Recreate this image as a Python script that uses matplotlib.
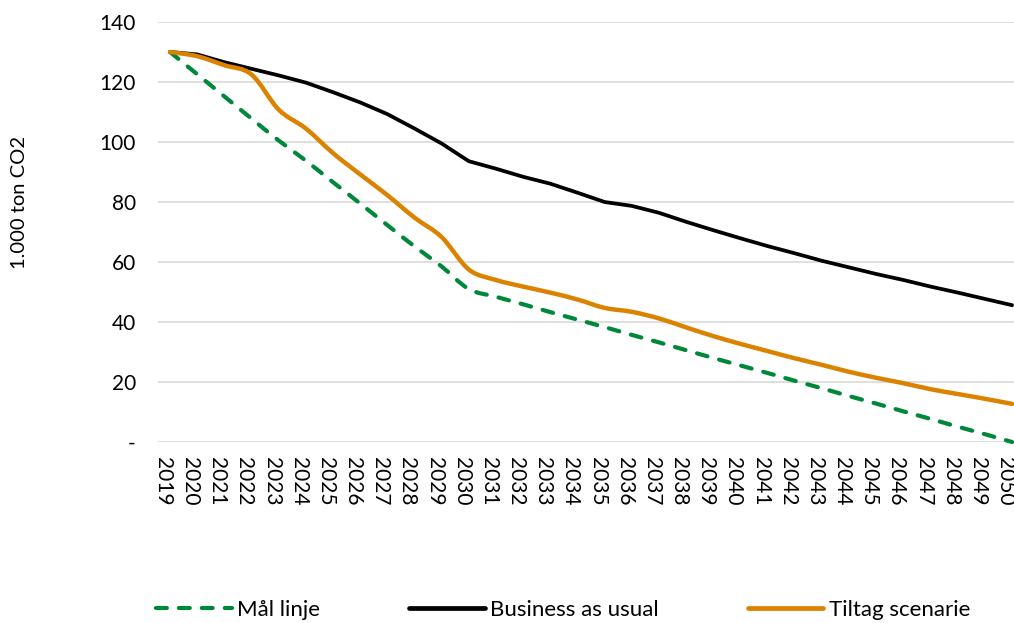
import matplotlib
matplotlib.use("Agg")
import matplotlib.pyplot as plt
import matplotlib.transforms as mtransforms
from matplotlib.lines import Line2D
from matplotlib.path import Path
from matplotlib.patches import PathPatch

plt.rcParams["font.family"] = ["Lato", "DejaVu Sans"]

# data
years = [str(y) for y in range(2019, 2051)]
maal_linje = [130, 122.6, 115.2, 107.8, 100.5, 93.8, 86.6, 79.5, 72.3, 65.2, 58.5, 51.0,
              48.4, 45.9, 43.3, 40.8, 38.3, 35.7, 33.2, 30.6, 28.0, 25.5, 23.0, 20.4,
              17.9, 15.3, 12.8, 10.2, 7.7, 5.1, 2.6, 0.0]
business_as_usual = [130, 129.2, 126.6, 124.4, 122.2, 119.8, 116.6, 113.2, 109.3, 104.5,
                     99.5, 93.6, 91.1, 88.4, 86.1, 83.1, 80.0, 78.7, 76.4, 73.4, 70.6,
                     67.9, 65.3, 62.9, 60.4, 58.2, 56.0, 54.0, 51.8, 49.8, 47.7, 45.6]
tiltag_scenarie = [130, 128.6, 125.6, 122.5, 110.8, 104.5, 96.3, 89.2, 82.3, 74.8, 68.3,
                   57.5, 54.0, 51.8, 49.8, 47.5, 44.7, 43.4, 41.2, 38.2, 35.3, 32.7, 30.3,
                   27.9, 25.7, 23.4, 21.4, 19.6, 17.6, 16.0, 14.4, 12.7]
y_ticks = [0, 20, 40, 60, 80, 100, 120, 140]
y_ticklabels = ["-", "20", "40", "60", "80", "100", "120", "140"]

GREEN = "#00883A"
ORANGE = "#DB8200"
BLACK = "#000000"
W, H = 1014, 623


def smooth_path(xs, ys):
    # Excel-style smoothed line: cubic bezier through each point
    pts = list(zip(xs, ys))
    verts = [pts[0]]
    codes = [Path.MOVETO]
    n = len(pts)
    for i in range(n - 1):
        p0 = pts[i - 1] if i > 0 else pts[i]
        p1 = pts[i]
        p2 = pts[i + 1]
        p3 = pts[i + 2] if i + 2 < n else pts[i + 1]
        c1 = (p1[0] + (p2[0] - p0[0]) / 6, p1[1] + (p2[1] - p0[1]) / 6)
        c2 = (p2[0] - (p3[0] - p1[0]) / 6, p2[1] - (p3[1] - p1[1]) / 6)
        verts += [c1, c2, p2]
        codes += [Path.CURVE4] * 3
    return Path(verts, codes)


fig = plt.figure(figsize=(W / 100, H / 100), dpi=100)
ax = fig.add_axes([158 / W, (H - 442) / H, (W - 158) / W, (442 - 22) / H])

x = list(range(len(years)))
green_patch = PathPatch(smooth_path(x, maal_linje), fill=False, edgecolor=GREEN,
                        linewidth=3.0, linestyle=(0, (2.6, 2.9)), capstyle="round",
                        clip_on=False, zorder=3)
ax.add_patch(green_patch)
ax.plot(x, business_as_usual, color=BLACK, linewidth=2.7, solid_capstyle="round",
        solid_joinstyle="round", clip_on=False, zorder=4)
orange_patch = PathPatch(smooth_path(x, tiltag_scenarie), fill=False, edgecolor=ORANGE,
                         linewidth=3.2, capstyle="round", joinstyle="round",
                         clip_on=False, zorder=5)
ax.add_patch(orange_patch)

ax.set_xlim(-0.442, 31.07)
ax.set_ylim(0, 140)
ax.set_xticks(x)
ax.set_xticklabels(years, rotation=270, fontsize=15)
ax.set_yticks(y_ticks)
ax.set_yticklabels(y_ticklabels, fontsize=15)
ax.tick_params(axis="x", length=0, pad=11)
ax.tick_params(axis="y", length=0, pad=16)
# Excel sets the category labels a touch left of the points
shift = mtransforms.ScaledTranslation(-7 / 100, 0, fig.dpi_scale_trans)
for lbl in ax.get_xticklabels():
    lbl.set_transform(lbl.get_transform() + shift)
for s in ax.spines.values():
    s.set_visible(False)
ax.yaxis.grid(True, color="#d9d9d9", linewidth=1.2)
ax.set_axisbelow(True)

fig.text(20 / W, 1 - 202 / H, "1.000 ton CO2", rotation=90, ha="center", va="center",
         fontsize=14.5)

handles = [
    Line2D([], [], color=GREEN, linewidth=3.0, linestyle=(0, (2.6, 2.9)),
           dash_capstyle="round"),
    Line2D([], [], color=BLACK, linewidth=3.4, solid_capstyle="round"),
    Line2D([], [], color=ORANGE, linewidth=3.4, solid_capstyle="round"),
]
labels = ["Mål linje", "Business as usual", "Tiltag scenarie"]
fig.legend(handles, labels, loc="center left", bbox_to_anchor=(156 / W, 1 - 610 / H),
           ncol=3, frameon=False, fontsize=16, handlelength=3.4, handletextpad=0.25,
           columnspacing=4.0, borderpad=0, borderaxespad=0)

fig.savefig("out.png", dpi=100)
